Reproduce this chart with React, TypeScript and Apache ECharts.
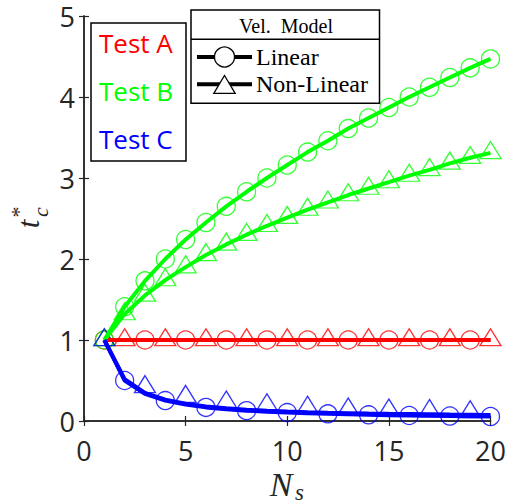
import React, { useEffect, useRef } from "react";
import * as echarts from "echarts";

// Number of samples N_s
const Ns = [1, 2, 3, 4, 5, 6, 7, 8, 9, 10, 11, 12, 13, 14, 15, 16, 17, 18, 19, 20];

// t*_c curves for each test and velocity model
const testALinear = [1, 1, 1, 1, 1, 1, 1, 1, 1, 1, 1, 1, 1, 1, 1, 1, 1, 1, 1, 1];
const testANonLinear = [1, 1, 1, 1, 1, 1, 1, 1, 1, 1, 1, 1, 1, 1, 1, 1, 1, 1, 1, 1];
const testBLinear = [1, 1.41, 1.73, 2.0, 2.24, 2.45, 2.65, 2.83, 3.0, 3.16, 3.32, 3.46, 3.61, 3.74, 3.87, 4.0, 4.12, 4.24, 4.36, 4.47];
const testBNonLinear = [1, 1.32, 1.55, 1.74, 1.9, 2.05, 2.18, 2.3, 2.41, 2.51, 2.61, 2.7, 2.79, 2.87, 2.95, 3.03, 3.1, 3.18, 3.25, 3.31];
const testCLinear = [1, 0.5, 0.335, 0.252, 0.202, 0.168, 0.145, 0.128, 0.115, 0.104, 0.095, 0.088, 0.082, 0.076, 0.072, 0.068, 0.064, 0.061, 0.058, 0.055];
const testCNonLinear = [1, 0.515, 0.348, 0.264, 0.214, 0.18, 0.156, 0.14, 0.127, 0.117, 0.109, 0.102, 0.097, 0.092, 0.088, 0.085, 0.082, 0.079, 0.077, 0.075];

// Where the markers sit along each curve
const markALinearNs = [1, 3, 5, 7, 9, 11, 13, 15, 17, 19];
const markANonLinearNs = [2, 4, 6, 8, 10, 12, 14, 16, 18, 20];
const markBLinearNs = Ns;
const markBNonLinearNs = Ns;
const markCLinearNs = [2, 4, 6, 8, 10, 12, 14, 16, 18, 20];
const markCNonLinearNs = [1, 3, 5, 7, 9, 11, 13, 15, 17, 19];
const markCNonLinearVal = [1, 0.42, 0.3, 0.23, 0.196, 0.165, 0.145, 0.132, 0.125, 0.11];

// Axis ticks
const xTicks = [0, 5, 10, 15, 20];
const yTicks = [0, 1, 2, 3, 4, 5];

const tests = ["Test A", "Test B", "Test C"];
const testColors = ["#ff0000", "#00ff00", "#0000ff"];
const models = ["Linear", "Non-Linear"];

const AXIS = "#262626";
const SANS = "Open Sans";
const SERIF = "Liberation Serif";

function pairs(xs: number[], ys: number[]) {
  return xs.map((x, i) => [x, ys[i]]);
}
function pick(xs: number[], ys: number[]) {
  return xs.map((x) => [x, ys[Ns.indexOf(x)]]);
}

function lineSeries(data: number[][], color: string) {
  return {
    type: "line",
    data,
    symbol: "none",
    showSymbol: false,
    silent: true,
    lineStyle: { color, width: 4 },
    itemStyle: { color },
  };
}

function circleMarks(data: number[][], color: string) {
  return {
    type: "scatter",
    data,
    symbol: "circle",
    symbolSize: 18,
    silent: true,
    itemStyle: { color: "transparent", borderColor: color, borderWidth: 1.3 },
  };
}

function triangleMarks(data: number[][], color: string) {
  return {
    type: "scatter",
    data,
    symbol: "triangle",
    symbolSize: [21, 17],
    symbolOffset: [0, -2.8],
    silent: true,
    itemStyle: { color: "transparent", borderColor: color, borderWidth: 1.3 },
  };
}

export default function App() {
  const ref = useRef<HTMLDivElement>(null);

  useEffect(() => {
    if (!ref.current) return;
    const chart = echarts.init(ref.current, undefined, { renderer: "svg" });

    const axisLine = { show: true, lineStyle: { color: AXIS, width: 1.5 } };
    const axisTick = { show: true, inside: true, length: 5, lineStyle: { color: AXIS, width: 1.2 } };
    const labelStyle = { color: AXIS, fontFamily: SANS, fontSize: 27 };

    const series: any[] = [
      lineSeries(pairs(Ns, testALinear), testColors[0]),
      lineSeries(pairs(Ns, testANonLinear), testColors[0]),
      circleMarks(pick(markALinearNs, testALinear), testColors[0]),
      triangleMarks(pick(markANonLinearNs, testANonLinear), testColors[0]),
      lineSeries(pairs(Ns, testBLinear), testColors[1]),
      lineSeries(pairs(Ns, testBNonLinear), testColors[1]),
      circleMarks(pick(markBLinearNs, testBLinear), testColors[1]),
      triangleMarks(pick(markBNonLinearNs, testBNonLinear), testColors[1]),
      lineSeries(pairs(Ns, testCLinear), testColors[2]),
      lineSeries(pairs(Ns, testCNonLinear), testColors[2]),
      circleMarks(pick(markCLinearNs, testCLinear), testColors[2]),
      triangleMarks(pairs(markCNonLinearNs, markCNonLinearVal), testColors[2]),
    ];

    const graphic: any[] = [
      // Test legend
      {
        type: "rect",
        z: 100,
        shape: { x: 91, y: 23, width: 95, height: 138 },
        style: { fill: "#ffffff", stroke: "#000000", lineWidth: 1.5 },
      },
      ...tests.map((t, i) => ({
        type: "text",
        z: 101,
        x: 99,
        y: 42.5 + i * 48.3,
        style: {
          text: t,
          fill: testColors[i],
          font: `26px "${SANS}"`,
          textAlign: "left",
          textVerticalAlign: "middle",
        },
      })),
      // Velocity model legend
      {
        type: "rect",
        z: 100,
        shape: { x: 191, y: 10, width: 188.5, height: 93.3 },
        style: { fill: "#ffffff", stroke: "#000000", lineWidth: 1.5 },
      },
      {
        type: "line",
        z: 101,
        shape: { x1: 191, y1: 39.3, x2: 379.5, y2: 39.3 },
        style: { stroke: "#000000", lineWidth: 1.5 },
      },
      {
        type: "text",
        z: 101,
        x: 286,
        y: 25.5,
        style: {
          text: "Vel.  Model",
          fill: "#000000",
          font: `20px "${SERIF}"`,
          textAlign: "center",
          textVerticalAlign: "middle",
        },
      },
      {
        type: "line",
        z: 101,
        shape: { x1: 197, y1: 57, x2: 252, y2: 57 },
        style: { stroke: "#000000", lineWidth: 4 },
      },
      {
        type: "circle",
        z: 102,
        shape: { cx: 224.5, cy: 57, r: 10 },
        style: { fill: "#ffffff", stroke: "#000000", lineWidth: 1.3 },
      },
      {
        type: "line",
        z: 101,
        shape: { x1: 197, y1: 84.3, x2: 252, y2: 84.3 },
        style: { stroke: "#000000", lineWidth: 4 },
      },
      {
        type: "polygon",
        z: 102,
        shape: { points: [[224.5, 75.5], [235.2, 93.3], [213.8, 93.3]] },
        style: { fill: "#ffffff", stroke: "#000000", lineWidth: 1.3 },
      },
      ...models.map((m, i) => ({
        type: "text",
        z: 101,
        x: 256,
        y: 57 + i * 27.3,
        style: {
          text: m,
          fill: "#000000",
          font: `24px "${SERIF}"`,
          textAlign: "left",
          textVerticalAlign: "middle",
        },
      })),
      // x axis label N_s
      {
        type: "text",
        z: 101,
        x: 281,
        y: 484,
        style: {
          text: "N",
          fill: AXIS,
          font: `italic 34px "${SERIF}"`,
          textAlign: "center",
          textVerticalAlign: "middle",
        },
      },
      {
        type: "text",
        z: 101,
        x: 295,
        y: 492,
        style: {
          text: "s",
          fill: AXIS,
          font: `italic 23px "${SERIF}"`,
          textAlign: "left",
          textVerticalAlign: "middle",
        },
      },
      // y axis label t*_c
      {
        type: "text",
        z: 101,
        x: 28,
        y: 224,
        rotation: Math.PI / 2,
        style: {
          text: "t",
          fill: AXIS,
          font: `italic 31px "${SERIF}"`,
          textAlign: "center",
          textVerticalAlign: "middle",
        },
      },
      {
        type: "text",
        z: 101,
        x: 18,
        y: 212,
        rotation: Math.PI / 2,
        style: {
          text: "*",
          fill: AXIS,
          font: `22px "${SERIF}"`,
          textAlign: "center",
          textVerticalAlign: "middle",
        },
      },
      {
        type: "text",
        z: 101,
        x: 40,
        y: 212,
        rotation: Math.PI / 2,
        style: {
          text: "c",
          fill: AXIS,
          font: `italic 22px "${SERIF}"`,
          textAlign: "center",
          textVerticalAlign: "middle",
        },
      },
    ];

    chart.setOption({
      animation: false,
      backgroundColor: "#ffffff",
      grid: { left: 84, right: 25.5, top: 16, bottom: 83, containLabel: false },
      xAxis: [
        {
          type: "value",
          min: xTicks[0],
          max: xTicks[xTicks.length - 1],
          interval: 5,
          position: "bottom",
          axisLine,
          axisTick,
          axisLabel: { ...labelStyle, margin: 16 },
          splitLine: { show: false },
        },
        {
          type: "value",
          min: xTicks[0],
          max: xTicks[xTicks.length - 1],
          interval: 5,
          position: "top",
          axisLine,
          axisTick,
          axisLabel: { show: false },
          splitLine: { show: false },
        },
      ],
      yAxis: [
        {
          type: "value",
          min: yTicks[0],
          max: yTicks[yTicks.length - 1],
          interval: 1,
          position: "left",
          axisLine,
          axisTick,
          axisLabel: { ...labelStyle, margin: 9 },
          splitLine: { show: false },
        },
        {
          type: "value",
          min: yTicks[0],
          max: yTicks[yTicks.length - 1],
          interval: 1,
          position: "right",
          axisLine,
          axisTick,
          axisLabel: { show: false },
          splitLine: { show: false },
        },
      ],
      series,
      graphic,
    });

    return () => chart.dispose();
  }, []);

  return (
    <div
      ref={ref}
      style={{ position: "fixed", left: 0, top: 0, width: 516, height: 504 }}
    />
  );
}
